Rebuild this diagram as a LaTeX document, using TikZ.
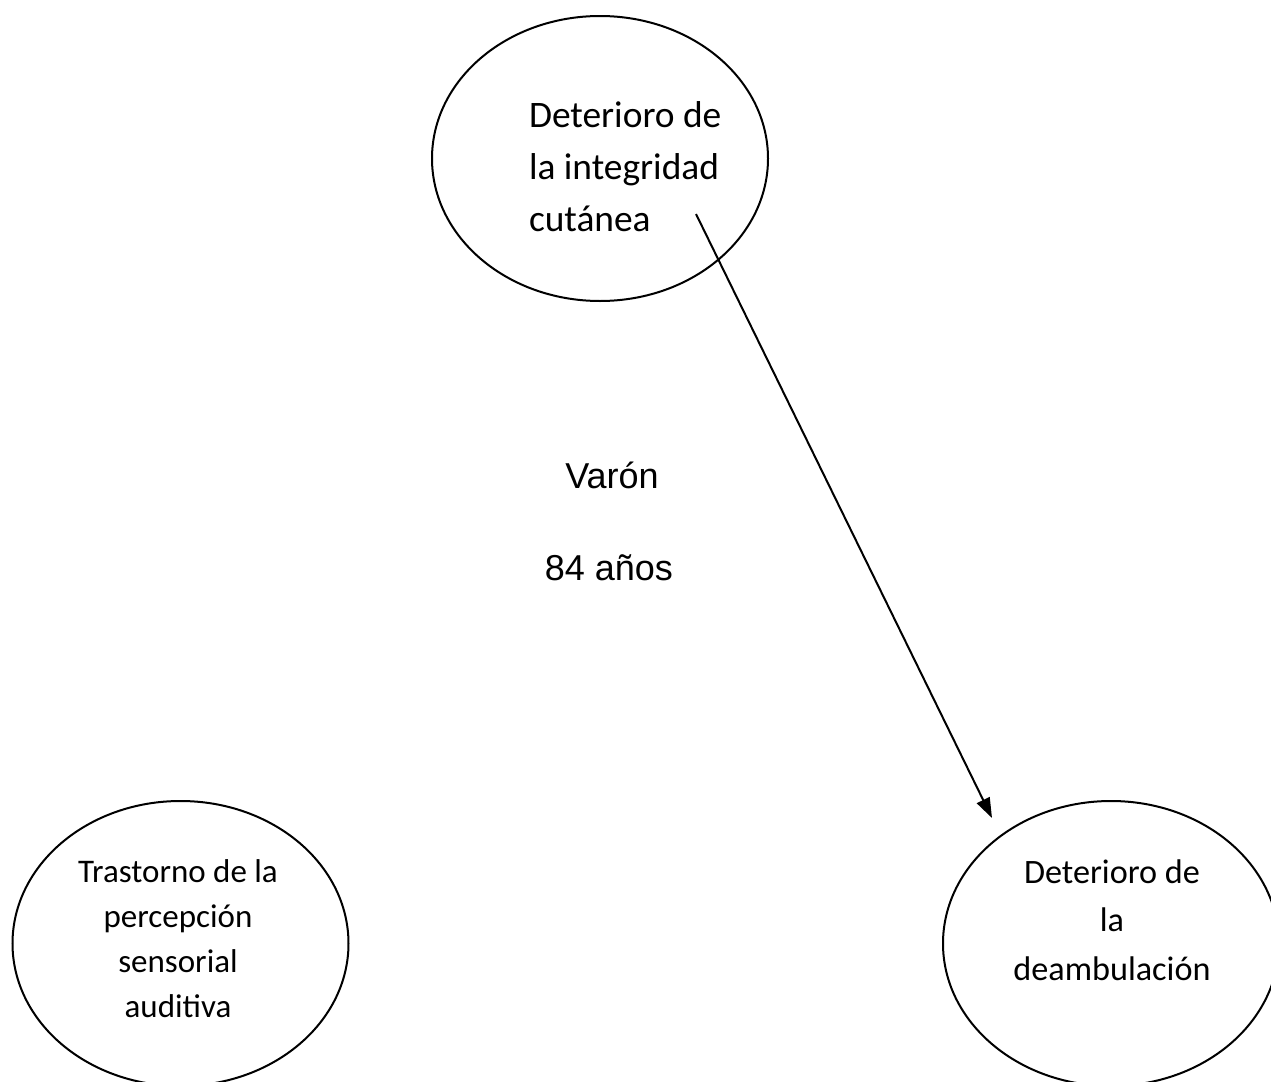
\documentclass[tikz,border=0pt]{standalone}
\usepackage{fontspec}
\setmainfont{Carlito}
\newfontfamily\arialfont{Liberation Sans}
\usetikzlibrary{arrows.meta,shapes.geometric}

\begin{document}
\begin{tikzpicture}[x=0.5pt,y=-0.5pt,>={Triangle[length=10pt,width=7pt]},
                    line width=1pt]
  \tikzstyle{bubble}=[draw,ellipse,minimum width=168pt,minimum height=142.5pt,
                      inner sep=0pt]
  \tikzstyle{bigtext}=[inner sep=0pt,font=\fontsize{18.7}{26}\selectfont]
  \tikzstyle{smalltext}=[inner sep=0pt,align=center,anchor=base,
                         font=\fontsize{16.5}{22.5}\selectfont]
  \tikzstyle{sans}=[inner sep=0pt,anchor=base,font=\arialfont\fontsize{18}{22}\selectfont]

  \useasboundingbox (0,0) rectangle (1271,1082);

  % the three ellipses
  \node[bubble] (C) at (600,158.5)  {};
  \node[bubble] (P) at (180.5,943.5) {};
  \node[bubble] (D) at (1111,943.5) {};

  % texts, placed by the baseline of their last line
  \node[bigtext,align=left,anchor=base west] (Ct) at (528,231)
       {Deterioro de\\la integridad\\cutánea};
  \node[smalltext] (Pt) at (178,1017) {Trastorno de la\\percepción\\sensorial\\auditiva};
  \node[smalltext,font=\fontsize{17.1}{24.25}\selectfont] (Dt) at (1112,980)
       {Deterioro de\\la\\deambulación};

  \node[sans] (V) at (612,488) {Varón};
  \node[sans] (A) at (609,580) {84 años};

  \coordinate (s) at (696,214);
  \coordinate (t) at (992,818);
  \path (s) edge[->] (t);
\end{tikzpicture}
\end{document}
